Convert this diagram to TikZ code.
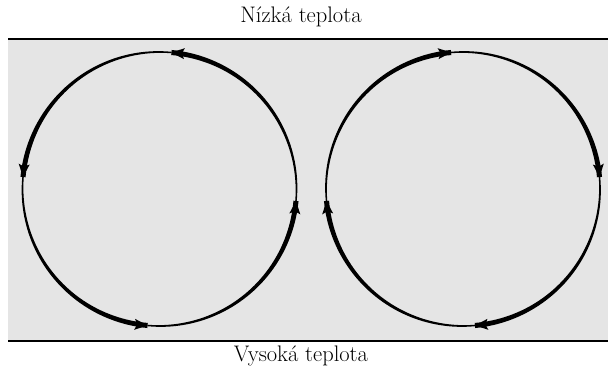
\documentclass[tikz,border=0pt]{standalone}
\tikzset{
  bandfill/.style={fill=black},
  tiphead/.style={fill=black},
  rimline/.style={line width=1.3pt},
  label/.style={font=\fontsize{15}{18}\selectfont, inner sep=0pt},
}
\begin{document}
\begin{tikzpicture}[x=0.6667pt,y=0.6667pt]
\useasboundingbox (0,0) rectangle (608,371);
% gray layer
\fill[black!10] (8,30) rectangle (608,332);
\draw[rimline] (8,332) -- (608,332);
\draw[rimline] (8,30) -- (608,30);
% labels
\node[label] (low) at (301,354) {Nízká teplota};
\node[label] (high) at (301,15) {Vysoká teplota};
% left cell (counterclockwise) and right cell (mirrored, clockwise)
\foreach \cx/\sx in {159.5/1, 463/-1}{
  \begin{scope}[shift={(\cx,182)}, xscale=\sx]
    \foreach \a/\b in {-5/85, 85/175, 175/265, 265/355}{
      \fill[bandfill] plot[domain=\a:\b, samples=50, variable=\t]
        ({(137+0.75+1.8*(\t-(\a))/90)*cos(\t)}, {(137+0.75+1.8*(\t-(\a))/90)*sin(\t)})
        -- plot[domain=\b:\a, samples=50, variable=\t]
        ({(137-0.75-1.8*(\t-(\a))/90)*cos(\t)}, {(137-0.75-1.8*(\t-(\a))/90)*sin(\t)})
        -- cycle;
    }
    \foreach \b in {85,175,265,355}{
      \fill[tiphead, rotate=\b] (137,0) -- (142.5,-13) -- (137,-10.5) -- (131.5,-13) -- cycle;
    }
  \end{scope}
}
\end{tikzpicture}
\end{document}
